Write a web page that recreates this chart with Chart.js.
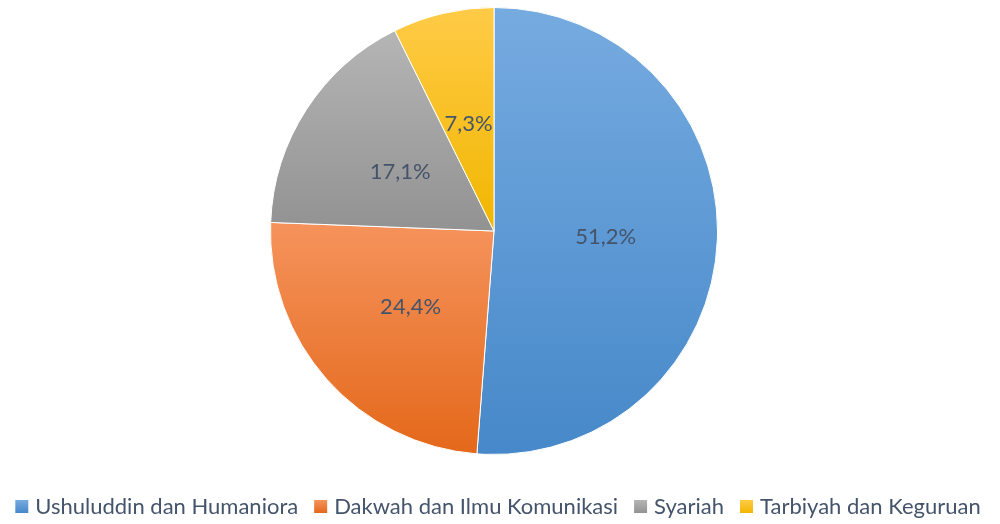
<!DOCTYPE html>
<html>
<head>
<meta charset="utf-8">
<script src="https://cdn.jsdelivr.net/npm/chart.js@4"></script>
<style>
  body { margin:0; background:#fff; }
  #wrap { width:1000px; height:524px; }
</style>
</head>
<body>
<div id="wrap"><canvas id="pieChart" width="1000" height="524"></canvas></div>
<script>
const labels = ["Ushuluddin dan Humaniora", "Dakwah dan Ilmu Komunikasi", "Syariah", "Tarbiyah dan Keguruan"];
const counts = [21, 10, 7, 3];
const topColours = ["#76ABE0", "#F5935C", "#B5B5B5", "#FFCB47"];
const bottomColours = ["#4688C9", "#E4681A", "#929292", "#F1B600"];
const legendColours = ["#5B9BD5", "#ED7D31", "#A5A5A5", "#FFC000"];
const textColour = "#44546A";
const fontFamily = "Lato, 'Open Sans', sans-serif";

const total = counts.reduce((a, b) => a + b, 0);

// vertical extent of a slice, in units of the radius (-1 top .. 1 bottom)
function sliceExtent(idx){
	let before = 0;
	for (let i = 0; i < idx; i++) before += counts[i];
	let a0 = -Math.PI/2 + before/total*2*Math.PI;
	let a1 = a0 + counts[idx]/total*2*Math.PI;
	let ys = [0, Math.sin(a0), Math.sin(a1)];
	for (const k of [-Math.PI/2, Math.PI/2, 3*Math.PI/2]) {
		if (k > a0 && k < a1) ys.push(Math.sin(k));
	}
	return [Math.min(...ys), Math.max(...ys)];
}

function sliceFill(ctx){
	const chart = ctx.chart;
	const area = chart.chartArea;
	const i = ctx.dataIndex;
	if (!area || i === undefined) return legendColours[i] || legendColours[0];
	const cy = (area.top + area.bottom)/2;
	const r = Math.min(area.right - area.left, area.bottom - area.top)/2;
	const [y0, y1] = sliceExtent(i);
	const g = chart.ctx.createLinearGradient(0, cy + y0*r, 0, cy + y1*r);
	g.addColorStop(0, topColours[i]);
	g.addColorStop(1, bottomColours[i]);
	return g;
}

const pctLabels = {
	id: 'pctLabels',
	afterDatasetsDraw(chart){
		const ctx = chart.ctx;
		const meta = chart.getDatasetMeta(0);
		ctx.save();
		ctx.font = "22px " + fontFamily;
		ctx.fillStyle = textColour;
		ctx.textAlign = 'center';
		ctx.textBaseline = 'middle';
		meta.data.forEach((arc, i) => {
			const p = arc.tooltipPosition();
			const txt = (counts[i]/total*100).toFixed(1).replace('.', ',') + '%';
			ctx.fillText(txt, p.x, p.y + 2);
		});
		ctx.restore();
	}
};

// legend drawn by hand so the spacing matches the office-style legend
const bottomLegend = {
	id: 'bottomLegend',
	afterDraw(chart){
		const ctx = chart.ctx;
		const box = 13, gap = 7, spacing = 16;
		ctx.save();
		ctx.font = "22px " + fontFamily;
		let widths = labels.map(l => ctx.measureText(l).width);
		let totalW = widths.reduce((a, b) => a + b, 0) + labels.length*(box + gap) + (labels.length - 1)*spacing;
		let x = 498 - totalW/2;
		const baseY = 514;
		ctx.textBaseline = 'alphabetic';
		ctx.textAlign = 'left';
		labels.forEach((l, i) => {
			const g = ctx.createLinearGradient(0, 500, 0, 513);
			g.addColorStop(0, topColours[i]);
			g.addColorStop(1, bottomColours[i]);
			ctx.fillStyle = g;
			ctx.fillRect(x, 500, box, box);
			x += box + gap;
			ctx.fillStyle = textColour;
			ctx.fillText(l, x, baseY);
			x += widths[i] + spacing;
		});
		ctx.restore();
	}
};

new Chart(document.getElementById('pieChart'), {
	type: 'pie',
	data: {
		labels: labels,
		datasets: [{
			data: counts,
			backgroundColor: sliceFill,
			borderColor: '#ffffff',
			borderWidth: 1
		}]
	},
	options: {
		responsive: false,
		animation: false,
		layout: { padding: { top: 7, right: 12, left: 0, bottom: 69 } },
		plugins: {
			tooltip: { enabled: false },
			legend: { display: false }
		}
	},
	plugins: [pctLabels, bottomLegend]
});
</script>
</body>
</html>
